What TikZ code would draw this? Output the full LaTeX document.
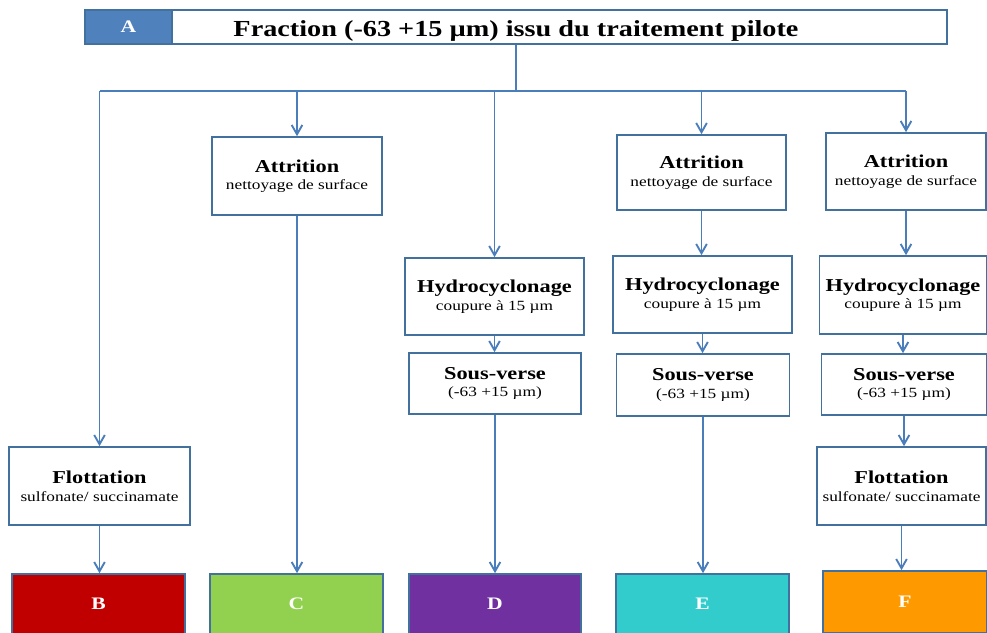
\documentclass[tikz,border=0pt]{standalone}
\usepackage{fontspec}
\setmainfont{Liberation Serif}
\newfontfamily\widefont[FakeStretch=1.23]{Liberation Serif}
\usetikzlibrary{positioning, arrows.meta, calc}

\definecolor{edgeblue}{HTML}{41719C}
\definecolor{lineblue}{HTML}{4A7EBB}
\definecolor{headblue}{HTML}{4F81BD}
\definecolor{resB}{HTML}{C00000}
\definecolor{resC}{HTML}{92D050}
\definecolor{resD}{HTML}{7030A0}
\definecolor{resE}{HTML}{33CCCC}
\definecolor{resF}{HTML}{FF9900}

\newcommand{\stepname}[2]{{\fontsize{15.5}{18}\selectfont\bfseries #1}\\[3pt]{\fontsize{12}{14}\selectfont #2}}

\begin{document}
\begin{tikzpicture}[x=0.03cm, y=-0.03cm,
    stepbox/.style={draw=edgeblue, fill=white, line width=1.4pt, align=center,
      inner sep=0pt, font=\widefont},
    resbox/.style={draw=edgeblue, line width=1.4pt, text=white, inner sep=0pt,
      font=\widefont\fontsize{15}{17}\selectfont\bfseries},
    flow/.style={draw=lineblue, line width=1.6pt, -{Straight Barb[length=2.8mm, width=3.2mm]}},
    trunk/.style={draw=lineblue, line width=1.6pt},
  ]
  \useasboundingbox (0,0) rectangle (987,632);
  \clip (0,0) rectangle (987,632);

  % header: title bar with the A tag laid over its left end
  \node[stepbox, minimum width=25.86cm, minimum height=1.02cm,
    text height=16pt, text depth=0pt,
    font=\widefont\fontsize{19.6}{22}\selectfont\bfseries] (title) at (516,27)
    {Fraction (-63 +15 µm) issu du traitement pilote};
  \node[resbox, fill=headblue, minimum width=2.61cm, minimum height=1.02cm] (lblA) at (128.5,27) {A};
  \coordinate (split) at (516,91);

  % branch 1: flottation
  \node[stepbox, minimum width=5.43cm, minimum height=2.34cm] (flotB) at (99.5,486)
    {\stepname{Flottation}{sulfonate/ succinamate}};
  \node[resbox, fill=resB, minimum width=5.19cm, minimum height=1.8cm] (resB) at (98.5,604) {B};

  % branch 2: attrition
  \node[stepbox, minimum width=5.1cm, minimum height=2.34cm] (attC) at (297,176)
    {\stepname{Attrition}{nettoyage de surface}};
  \node[resbox, fill=resC, minimum width=5.19cm, minimum height=1.8cm] (resC) at (296.5,604) {C};

  % branch 3: hydrocyclonage + sous-verse
  \node[stepbox, minimum width=5.37cm, minimum height=2.31cm] (hydD) at (494.5,296.5)
    {\stepname{Hydrocyclonage}{coupure à 15 µm}};
  \node[stepbox, minimum width=5.16cm, minimum height=1.83cm] (svD) at (495,383.5)
    {\stepname{Sous-verse}{(-63 +15 µm)}};
  \node[resbox, fill=resD, minimum width=5.16cm, minimum height=1.8cm] (resD) at (495,604) {D};

  % branch 4: attrition + hydrocyclonage + sous-verse
  \node[stepbox, minimum width=5.07cm, minimum height=2.25cm] (attE) at (701.5,172.5)
    {\stepname{Attrition}{nettoyage de surface}};
  \node[stepbox, minimum width=5.37cm, minimum height=2.31cm] (hydE) at (702.5,294.5)
    {\stepname{Hydrocyclonage}{coupure à 15 µm}};
  \node[stepbox, minimum width=5.19cm, minimum height=1.86cm] (svE) at (703,385)
    {\stepname{Sous-verse}{(-63 +15 µm)}};
  \node[resbox, fill=resE, minimum width=5.19cm, minimum height=1.8cm] (resE) at (702.5,604) {E};

  % branch 5: attrition + hydrocyclonage + sous-verse + flottation
  \node[stepbox, minimum width=4.8cm, minimum height=2.31cm] (attF) at (906,171.5)
    {\stepname{Attrition}{nettoyage de surface}};
  \node[stepbox, minimum width=5.01cm, minimum height=2.34cm] (hydF) at (903,295)
    {\stepname{Hydrocyclonage}{coupure à 15 µm}};
  \node[stepbox, minimum width=4.95cm, minimum height=1.83cm] (svF) at (904,384.5)
    {\stepname{Sous-verse}{(-63 +15 µm)}};
  \node[stepbox, minimum width=5.07cm, minimum height=2.34cm] (flotF) at (901.5,486)
    {\stepname{Flottation}{sulfonate/ succinamate}};
  \node[resbox, fill=resF, minimum width=4.92cm, minimum height=1.86cm] (resF) at (905,602) {F};

  % connectors
  \draw[trunk] (title.south -| split) -- (split);
  \draw[trunk] (split) -- (split -| flotB.north) (split) -- (split -| attF.north);
  \draw[flow] (split -| flotB.north) -- (flotB.north);
  \draw[flow] (split -| attC.north) -- (attC.north);
  \draw[flow] (split -| hydD.north) -- (hydD.north);
  \draw[flow] (split -| attE.north) -- (attE.north);
  \draw[flow] (split -| attF.north) -- (attF.north);

  \draw[flow] (flotB.south) -- (flotB.south |- resB.north);
  \draw[flow] (attC.south) -- (attC.south |- resC.north);
  \draw[flow] (hydD.south) -- (hydD.south |- svD.north);
  \draw[flow] (svD.south) -- (svD.south |- resD.north);
  \draw[flow] (attE.south) -- (attE.south |- hydE.north);
  \draw[flow] (hydE.south) -- (hydE.south |- svE.north);
  \draw[flow] (svE.south) -- (svE.south |- resE.north);
  \draw[flow] (attF.south) -- (attF.south |- hydF.north);
  \draw[flow] (hydF.south) -- (hydF.south |- svF.north);
  \draw[flow] (svF.south) -- (svF.south |- flotF.north);
  \draw[flow] (flotF.south) -- (flotF.south |- resF.north);
\end{tikzpicture}
\end{document}
